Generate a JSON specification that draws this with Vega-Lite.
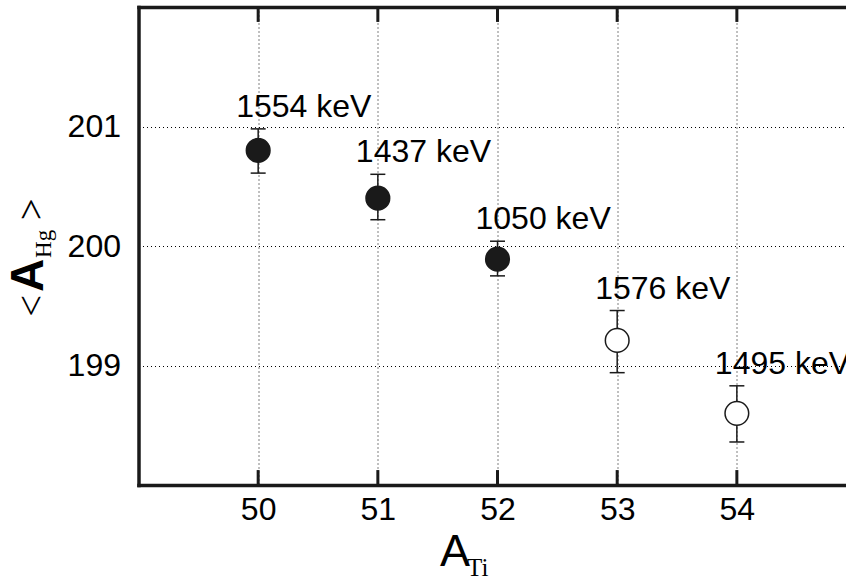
{
  "$schema": "https://vega.github.io/schema/vega-lite/v6.json",
  "width": 707.5,
  "height": 478,
  "autosize": "none",
  "padding": {"left": 138.5, "top": 7, "right": 0, "bottom": 96},
  "background": "white",
  "config": {
    "view": {"stroke": null},
    "font": "Liberation Sans",
    "axis": {
      "gridColor": "#000000",
      "gridDash": [1, 3],
      "gridOpacity": 1,
      "gridWidth": 1,
      "domainColor": "#1a1a1a",
      "domainWidth": 3.5,
      "domainCap": "square",
      "ticks": false,
      "labelColor": "#000000",
      "labelFont": "Liberation Sans",
      "labelFontSize": 32,
      "labelOverlap": false
    },
    "axisX": {"labelFlush": false, "labelPadding": 9},
    "axisY": {"labelPadding": 18, "labelBaseline": "middle"}
  },
  "data": {
    "values": [
      {"a": 50, "value": 200.80, "lo": 200.61, "hi": 200.98, "type": "filled", "label": "1554 keV"},
      {"a": 51, "value": 200.40, "lo": 200.22, "hi": 200.60, "type": "filled", "label": "1437 keV"},
      {"a": 52, "value": 199.89, "lo": 199.75, "hi": 200.04, "type": "filled", "label": "1050 keV"},
      {"a": 53, "value": 199.21, "lo": 198.94, "hi": 199.46, "type": "open", "label": "1576 keV"},
      {"a": 54, "value": 198.60, "lo": 198.36, "hi": 198.83, "type": "open", "label": "1495 keV"}
    ]
  },
  "resolve": {"axis": {"x": "independent"}},
  "layer": [
    {
      "mark": {"type": "rule", "color": "#1a1a1a", "strokeWidth": 1.5},
      "encoding": {
        "x": {"field": "a", "type": "quantitative", "scale": {"domain": [49, 54.912], "nice": false, "zero": false},
              "axis": {"orient": "top", "title": null, "values": [50, 51, 52, 53, 54], "labels": false, "grid": false}},
        "y": {"field": "lo", "type": "quantitative", "scale": {"domain": [198, 202], "nice": false, "zero": false},
              "axis": {"title": null, "values": [199, 200, 201], "grid": true}},
        "y2": {"field": "hi"}
      }
    },
    {
      "mark": {"type": "rule", "color": "#1a1a1a", "strokeWidth": 3},
      "encoding": {
        "x": {"field": "a", "type": "quantitative", "axis": null},
        "y": {"datum": 198, "type": "quantitative", "axis": {"title": null, "values": [199, 200, 201], "grid": true}},
        "y2": {"datum": 198.125}
      }
    },
    {
      "mark": {"type": "rule", "color": "#1a1a1a", "strokeWidth": 3},
      "encoding": {
        "x": {"field": "a", "type": "quantitative", "axis": null},
        "y": {"datum": 202, "type": "quantitative", "axis": {"title": null, "values": [199, 200, 201], "grid": true}},
        "y2": {"datum": 201.875}
      }
    },
    {
      "mark": {"type": "tick", "orient": "horizontal", "color": "#1a1a1a", "thickness": 1.5, "size": 15, "opacity": 1},
      "encoding": {
        "x": {"field": "a", "type": "quantitative", "axis": null},
        "y": {"field": "lo", "type": "quantitative", "axis": {"title": null, "values": [199, 200, 201], "grid": true}}
      }
    },
    {
      "mark": {"type": "tick", "orient": "horizontal", "color": "#1a1a1a", "thickness": 1.5, "size": 15, "opacity": 1},
      "encoding": {
        "x": {"field": "a", "type": "quantitative", "axis": null},
        "y": {"field": "hi", "type": "quantitative", "axis": {"title": null, "values": [199, 200, 201], "grid": true}}
      }
    },
    {
      "mark": {"type": "point", "shape": "circle", "filled": true, "size": 560, "stroke": "#1a1a1a", "strokeWidth": 1.5, "opacity": 1},
      "encoding": {
        "x": {"field": "a", "type": "quantitative",
              "axis": {"orient": "bottom", "title": null, "values": [50, 51, 52, 53, 54], "grid": true}},
        "y": {"field": "value", "type": "quantitative", "axis": {"title": null, "values": [199, 200, 201], "grid": true}},
        "fill": {"field": "type", "type": "nominal", "scale": {"domain": ["filled", "open"], "range": ["#1a1a1a", "#ffffff"]}, "legend": null}
      }
    },
    {
      "mark": {"type": "text", "align": "left", "baseline": "alphabetic", "dx": -22, "dy": -12, "fontSize": 32, "font": "Liberation Sans", "color": "#000000"},
      "encoding": {
        "x": {"field": "a", "type": "quantitative", "axis": null},
        "y": {"field": "hi", "type": "quantitative", "axis": {"title": null, "values": [199, 200, 201], "grid": true}},
        "text": {"field": "label", "type": "nominal"}
      }
    },
    {
      "data": {"values": [{}]},
      "mark": {"type": "text", "text": "A", "align": "left", "baseline": "alphabetic", "fontSize": 45, "font": "Liberation Sans", "color": "#000000"},
      "encoding": {
        "x": {"datum": 51.519, "type": "quantitative", "axis": null},
        "y": {"datum": 197.322, "type": "quantitative", "axis": {"title": null, "values": [199, 200, 201], "grid": true}}
      }
    },
    {
      "data": {"values": [{}]},
      "mark": {"type": "text", "text": "Ti", "align": "left", "baseline": "alphabetic", "fontSize": 25, "font": "Liberation Serif", "color": "#000000"},
      "encoding": {
        "x": {"datum": 51.745, "type": "quantitative", "axis": null},
        "y": {"datum": 197.24, "type": "quantitative", "axis": {"title": null, "values": [199, 200, 201], "grid": true}}
      }
    },
    {
      "data": {"values": [{}]},
      "mark": {"type": "text", "text": "<", "angle": 270, "align": "left", "baseline": "alphabetic", "fontSize": 48, "fontWeight": 300, "font": "Lato", "color": "#000000"},
      "encoding": {
        "x": {"datum": 48.235, "type": "quantitative", "axis": null},
        "y": {"datum": 199.389, "type": "quantitative", "axis": {"title": null, "values": [199, 200, 201], "grid": true}}
      }
    },
    {
      "data": {"values": [{}]},
      "mark": {"type": "text", "text": "A", "angle": 270, "align": "left", "baseline": "alphabetic", "fontSize": 46, "fontWeight": "bold", "font": "Liberation Sans", "color": "#000000"},
      "encoding": {
        "x": {"datum": 48.202, "type": "quantitative", "axis": null},
        "y": {"datum": 199.615, "type": "quantitative", "axis": {"title": null, "values": [199, 200, 201], "grid": true}}
      }
    },
    {
      "data": {"values": [{}]},
      "mark": {"type": "text", "text": "Hg", "angle": 270, "align": "left", "baseline": "alphabetic", "fontSize": 23, "font": "Liberation Serif", "color": "#000000"},
      "encoding": {
        "x": {"datum": 48.269, "type": "quantitative", "axis": null},
        "y": {"datum": 199.900, "type": "quantitative", "axis": {"title": null, "values": [199, 200, 201], "grid": true}}
      }
    },
    {
      "data": {"values": [{}]},
      "mark": {"type": "text", "text": ">", "angle": 270, "align": "left", "baseline": "alphabetic", "fontSize": 48, "fontWeight": 300, "font": "Lato", "color": "#000000"},
      "encoding": {
        "x": {"datum": 48.235, "type": "quantitative", "axis": null},
        "y": {"datum": 200.184, "type": "quantitative", "axis": {"title": null, "values": [199, 200, 201], "grid": true}}
      }
    }
  ]
}
